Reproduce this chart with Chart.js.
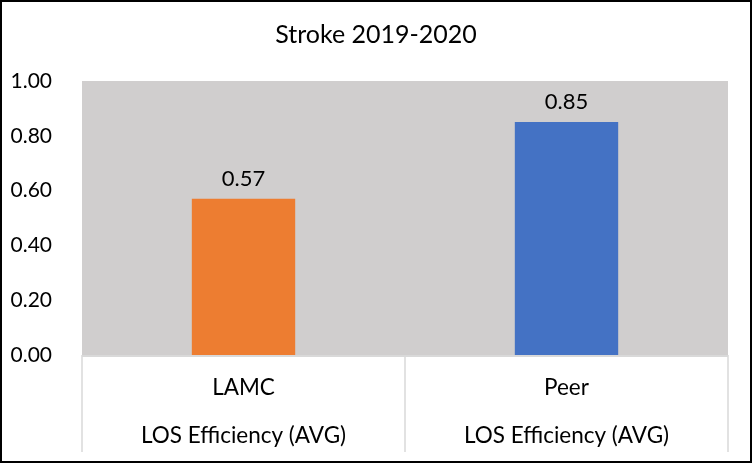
<!DOCTYPE html>
<html>
<head>
<meta charset="utf-8">
<script src="https://cdn.jsdelivr.net/npm/chart.js@4/dist/chart.umd.min.js"></script>
<style>
  html, body { margin: 0; padding: 0; background: #fff; }
  #wrap { width: 752px; height: 463px; box-sizing: border-box; border: 2px solid #000; position: relative; }
  #box { width: 748px; height: 459px; }
</style>
</head>
<body>
<div id="wrap"><div id="box"><canvas id="c"></canvas></div></div>
<script>
const titleText = "Stroke 2019-2020";
const categories = ["LAMC", "Peer"];
const groupLabel = "LOS Efficiency (AVG)";
const values = [0.57, 0.85];
const barColors = ["#ED7D31", "#4472C4"];
const yMin = 0, yMax = 1, yStep = 0.2;

const FONT = "Lato, 'Open Sans', sans-serif";

const bgPlugin = {
  id: 'bg',
  beforeDraw(chart) {
    const a = chart.chartArea, ctx = chart.ctx;
    ctx.save();
    ctx.fillStyle = '#D0CECE';
    ctx.fillRect(a.left, a.top, a.right - a.left, a.bottom - a.top);
    ctx.restore();
  }
};

const sepPlugin = {
  id: 'sep',
  afterDraw(chart) {
    const xs = chart.scales.x, ctx = chart.ctx;
    const n = categories.length;
    ctx.save();
    ctx.strokeStyle = '#D9D9D9';
    ctx.lineWidth = 1.5;
    for (let i = 0; i <= n; i++) {
      const x = xs.left + i * (xs.right - xs.left) / n;
      ctx.beginPath();
      ctx.moveTo(x, xs.top);
      ctx.lineTo(x, xs.bottom);
      ctx.stroke();
    }
    ctx.lineWidth = 2;
    ctx.beginPath();
    ctx.moveTo(xs.left, xs.top + 1);
    ctx.lineTo(xs.right, xs.top + 1);
    ctx.stroke();
    ctx.restore();
  }
};

const labelPlugin = {
  id: 'vals',
  afterDatasetsDraw(chart) {
    const ctx = chart.ctx;
    const meta = chart.getDatasetMeta(0);
    ctx.save();
    ctx.fillStyle = '#000';
    ctx.font = "22px " + FONT;
    ctx.textAlign = 'center';
    ctx.textBaseline = 'alphabetic';
    meta.data.forEach((bar, i) => {
      ctx.fillText(values[i].toFixed(2), bar.x, bar.y - 13);
    });
    ctx.restore();
  }
};

new Chart(document.getElementById('c'), {
  type: 'bar',
  data: {
    labels: categories.map(c => [c, groupLabel]),
    datasets: [{
      data: values,
      backgroundColor: barColors,
      borderWidth: 0,
      categoryPercentage: 1,
      barPercentage: 0.32
    }]
  },
  options: {
    responsive: true,
    maintainAspectRatio: false,
    animation: false,
    layout: { padding: { left: 0, right: 0, top: 0, bottom: 9 } },
    plugins: {
      legend: { display: false },
      tooltip: { enabled: false },
      title: {
        display: true,
        text: titleText,
        color: '#000',
        font: { family: FONT, size: 25, weight: 'normal' },
        padding: { top: 18, bottom: 31 }
      }
    },
    scales: {
      x: {
        grid: { display: false },
        border: { display: false },
        ticks: {
          color: '#000',
          font: { family: FONT, size: 22.5, lineHeight: 2.16 },
          padding: 0
        },
        afterFit(s) { s.height = 97; }
      },
      y: {
        min: yMin, max: yMax,
        grid: { display: false },
        border: { display: false },
        ticks: {
          stepSize: yStep,
          color: '#000',
          font: { family: FONT, size: 21 },
          padding: 22,
          callback: v => Number(v).toFixed(2)
        },
        afterFit(s) { s.width = 80; }
      },
      yRight: {
        position: 'right',
        display: true,
        grid: { display: false },
        border: { display: false },
        ticks: { display: false },
        afterFit(s) { s.width = 22; }
      }
    }
  },
  plugins: [bgPlugin, sepPlugin, labelPlugin]
});
</script>
</body>
</html>
